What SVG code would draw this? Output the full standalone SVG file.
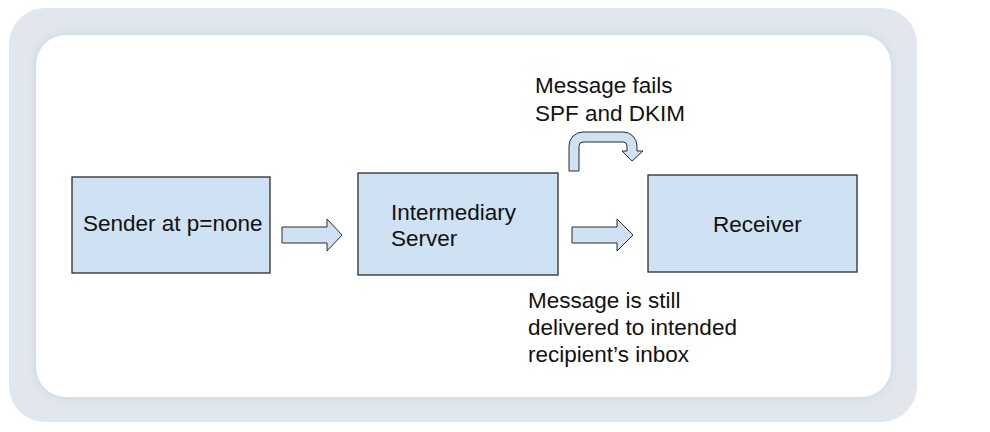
<svg xmlns="http://www.w3.org/2000/svg" width="990" height="432" viewBox="0 0 990 432">
  <defs>
    <filter id="sh" x="-5%" y="-5%" width="110%" height="110%">
      <feDropShadow dx="0" dy="0" stdDeviation="4" flood-color="#b9c3cf" flood-opacity="0.6"/>
    </filter>
  </defs>
  <style>
    .node { fill: #cfe2f3; stroke: #2b2b2b; stroke-width: 1.3; }
    .arrow { fill: #cfe2f3; stroke: #2b2b2b; stroke-width: 1; stroke-linejoin: miter; }
    text { font-family: "Liberation Sans", Arial, sans-serif; font-size: 22.5px; fill: #111; }
  </style>
  <rect width="990" height="432" fill="#ffffff"/>
  <g id="frame">
    <rect x="9" y="8" width="908" height="414" rx="36" ry="36" fill="#e2e7ee"/>
    <rect x="36" y="35" width="855" height="362" rx="30" ry="30" fill="#ffffff" filter="url(#sh)"/>
  </g>
  <g id="sender">
    <rect class="node" x="72" y="177" width="198" height="96"/>
    <text x="83" y="231">Sender at p=none</text>
  </g>
  <g id="intermediary">
    <rect class="node" x="358" y="173" width="200" height="102"/>
    <text x="391" y="220">Intermediary</text>
    <text x="391" y="246">Server</text>
  </g>
  <g id="receiver">
    <rect class="node" x="648" y="175" width="209" height="97"/>
    <text x="713" y="232">Receiver</text>
  </g>
  <g id="connectors">
    <path class="arrow" d="M282,227 H327 V219 L342,235 L327,251 V243 H282 Z"/>
    <path class="arrow" d="M572,227 H617 V219 L633,235 L617,251 V243 H572 Z"/>
    <path class="arrow" d="M569,171 V146 A14,14 0 0 1 583,132 H623 A14,14 0 0 1 637,146 V151 H643 L632,161 L622,151 H627 V146 A4,4 0 0 0 623,142 H583 A4,4 0 0 0 579,146 V171 Z"/>
  </g>
  <g id="label-fails">
    <text x="535" y="93">Message fails</text>
    <text x="535" y="121">SPF and DKIM</text>
  </g>
  <g id="label-delivered">
    <text x="528" y="308">Message is still</text>
    <text x="528" y="335">delivered to intended</text>
    <text x="528" y="362">recipient’s inbox</text>
  </g>
</svg>
